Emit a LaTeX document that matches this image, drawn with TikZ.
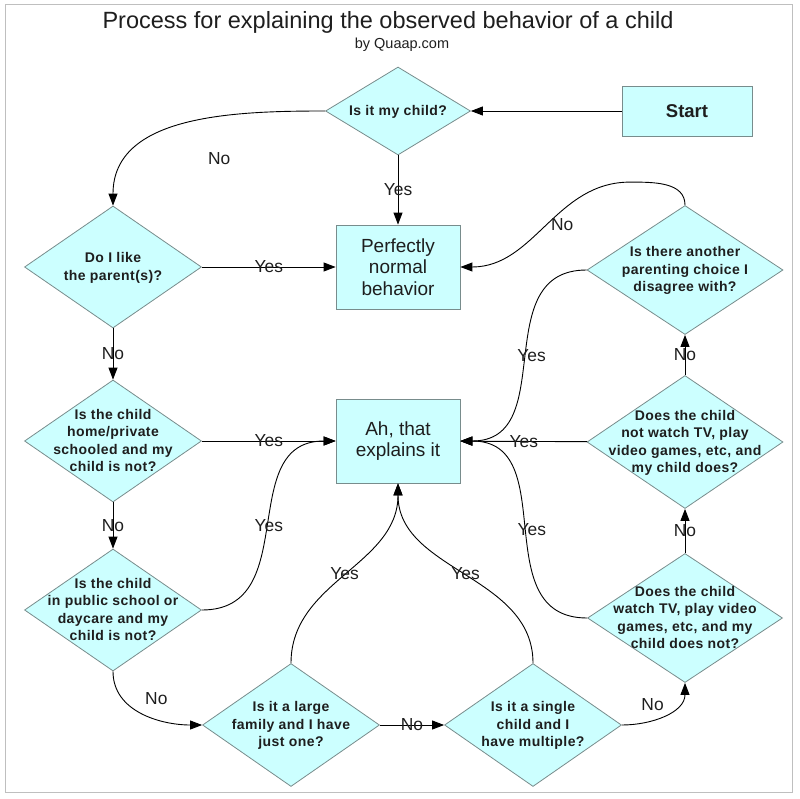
\documentclass[tikz,border=0pt]{standalone}
\usepackage{fontspec}
\setmainfont{Liberation Sans}
\newfontfamily\qfont{Liberation Sans}[LetterSpace=3.0]
\usetikzlibrary{arrows.meta,shapes.geometric}
\definecolor{qfill}{RGB}{204,255,255}
\definecolor{qline}{RGB}{120,140,140}
\definecolor{qtext}{RGB}{30,30,30}
\newcommand{\qbox}[1]{\smash{\makebox[0pt]{\raisebox{-4.5pt}{\begin{tabular}{@{}c@{}}#1\end{tabular}}}}}

\begin{document}
\begin{tikzpicture}[x=1pt,y=1pt,
    decision/.style={diamond,draw=qline,fill=qfill,line width=0.8pt,inner sep=0pt,
      minimum width=177pt,minimum height=122pt,text=qtext,
      font=\qfont\bfseries\fontsize{14}{17.5}\selectfont},
    outcome/.style={rectangle,draw=qline,fill=qfill,line width=0.8pt,
      minimum width=124pt,minimum height=84pt,align=center,text=qtext,
      font=\fontsize{19}{21.5}\selectfont},
    flow/.style={draw=black,line width=0.9pt,-{Triangle[length=12pt,width=9pt]}},
    answer/.style={text=qtext,inner sep=0pt,font=\fontsize{17.4}{17.4}\selectfont}]
        \useasboundingbox (0,0) rectangle (799,-799);
        \draw[black!25,line width=1pt] (5,-5) rectangle (792,-792);
        \node[text=qtext,font=\fontsize{23.5}{26}\selectfont] (title) at (388,-22)
          {Process for explaining the observed behavior of a child};
        \node[text=qtext,font=\fontsize{14.5}{16}\selectfont] (byline) at (402,-45) {by Quaap.com};
        \node[outcome,minimum width=130pt,minimum height=50pt,
          font=\bfseries\fontsize{18.5}{20}\selectfont] (start) at (687,-111) {Start};
        \node[decision,minimum width=145pt,minimum height=88pt] (mine) at (398,-111)
          {\qbox{Is it my child?}};
        \node[outcome] (normal) at (398,-267) {Perfectly\\normal\\behavior};
        \node[outcome] (ah) at (398,-441) {Ah, that\\explains it};
        \node[decision] (like) at (113,-267) {\qbox{Do I like\\the parent(s)?}};
        \node[decision] (home) at (113,-441)
          {\qbox{Is the child\\home/private\\schooled and my\\child is not?}};
        \node[decision] (public) at (113,-610)
          {\qbox{Is the child\\in public school or\\daycare and my\\child is not?}};
        \node[decision,minimum height=123pt] (large) at (291,-725)
          {\qbox{Is it a large\\family and I have\\just one?}};
        \node[decision,minimum height=123pt] (single) at (533,-725)
          {\qbox{Is it a single\\child and I\\have multiple?}};
        \node[decision,minimum width=195pt,minimum height=129pt] (watch) at (685,-618)
          {\qbox{Does the child\\watch TV, play video\\games, etc, and my\\child does not?}};
        \node[decision,minimum width=196pt,minimum height=133pt] (notwatch) at (685,-442)
          {\qbox{Does the child\\not watch TV, play\\video games, etc, and\\my child does?}};
        \node[decision,minimum width=196pt,minimum height=129pt] (other) at (685,-270)
          {\qbox{Is there another\\parenting choice I\\disagree with?}};
        \draw[flow] (start) -- (mine);
        \foreach \a/\b/\t in {mine/normal/Yes,like/normal/Yes,like/home/No,home/ah/Yes,
            home/public/No,large/single/No,watch/notwatch/No,notwatch/ah/Yes,notwatch/other/No}
          \draw[flow] (\a) -- (\b) node[answer,midway] {\t};
        \draw[flow] (mine.west) to[out=180,in=90]
          node[answer,pos=0.3,xshift=-20pt,yshift=-44pt] {No} (like.north);
        \draw[flow] (public.east) to[out=0,in=180,looseness=1.2] node[answer] {Yes} (ah.west);
        \draw[flow] (public.south) to[out=-90,in=180]
          node[answer,xshift=14pt,yshift=15pt] {No} (large.west);
        \draw[flow] (large.north) to[out=90,in=-90] node[answer] {Yes} (ah.south);
        \draw[flow] (single.north) to[out=90,in=-90] node[answer] {Yes} (ah.south);
        \draw[flow] (single.east) to[out=0,in=-90]
          node[answer,xshift=-12pt,yshift=10pt] {No} (watch.south);
        \draw[flow] (watch.west) to[out=180,in=0,looseness=1.2]
          node[answer,xshift=8pt] {Yes} (ah.east);
        \draw[flow] (other.west) to[out=180,in=0,looseness=1.2]
          node[answer,xshift=8pt] {Yes} (ah.east);
        \draw[flow] (other.north) to[out=90,in=0] ++(-55,23) to[out=180,in=0]
          node[answer,xshift=17pt] {No} (normal.east);
      \end{tikzpicture}
\end{document}
